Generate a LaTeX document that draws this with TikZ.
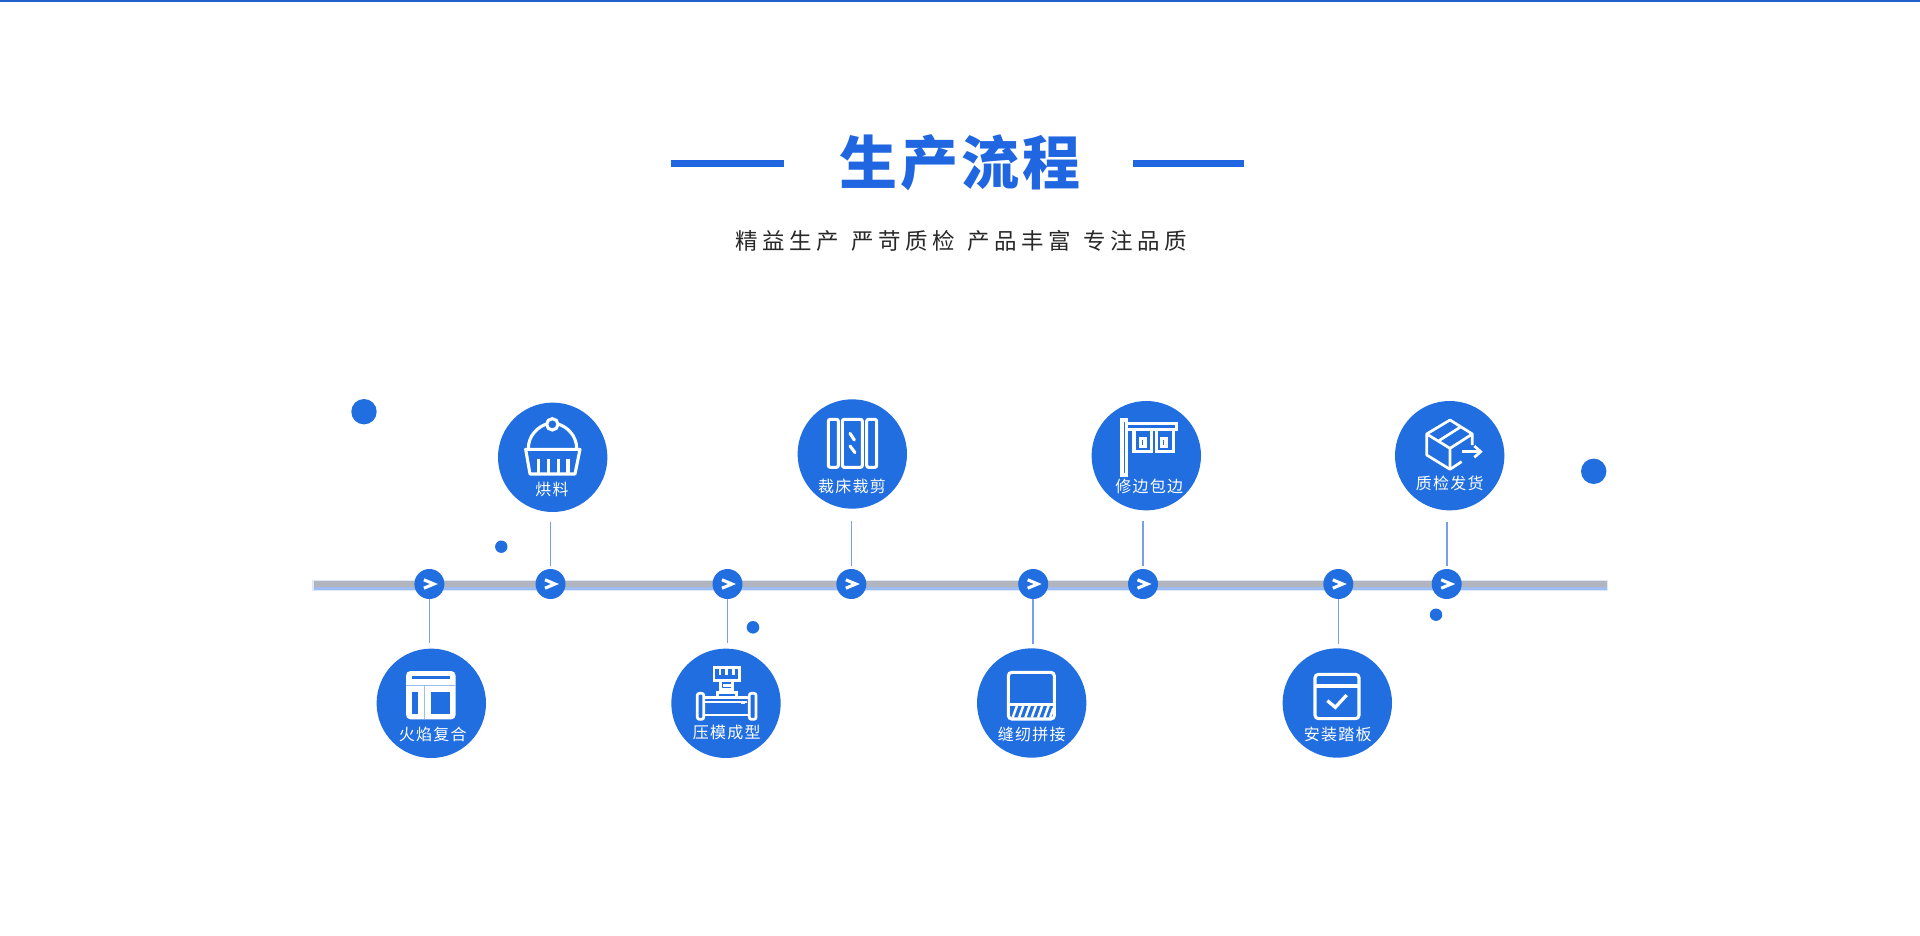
\documentclass[tikz,border=0pt]{standalone}
\usepackage{fontspec}
\newfontfamily\cjklab[LetterSpace=8]{Noto Sans CJK SC}
\newfontfamily\cjksub[LetterSpace=20]{Noto Sans CJK SC}
\newfontfamily\cjktitle[LetterSpace=5]{Noto Sans CJK SC}
\definecolor{mainblue}{RGB}{33,110,225}
\definecolor{titleblue}{RGB}{31,102,224}
\definecolor{topblue}{RGB}{34,96,208}
\definecolor{barblue}{RGB}{157,189,240}
\definecolor{barglow}{RGB}{222,232,248}
\definecolor{bargray}{RGB}{178,181,189}
\definecolor{connblue}{RGB}{118,160,234}
\definecolor{subgray}{RGB}{40,40,40}
\tikzset{
  bigdisc/.style={circle,fill=mainblue,minimum size=109.4pt,inner sep=0pt},
  tlnode/.style={circle,fill=mainblue,minimum size=30pt,inner sep=0pt},
  deco/.style={circle,fill=mainblue,inner sep=0pt},
  conn/.style={draw=connblue,line width=1.6pt},
  chev/.style={draw=white,line width=3.1pt,miter limit=10},
  lab/.style={text=white,font=\cjklab\fontsize{16}{19}\selectfont,inner sep=0pt},
  ico/.style={draw=white,line width=3.1pt},
  at3/.style 2 args={shift={(#1,#2)},x=0.33333pt,y=-0.33333pt},
  titlerule/.style={fill=titleblue,draw=none}
}
\newcommand\chevat[1]{\draw[chev] ([shift={(-5.5,-4.2)}]#1.center) -- ([shift={(4.5,0)}]#1.center) -- ([shift={(-5.5,4.2)}]#1.center);}
\begin{document}
\begin{tikzpicture}[x=1pt,y=-1pt]
\useasboundingbox[fill=white] (0,0) rectangle (1920,936);
\fill[topblue] (0,0) rectangle (1920,2);
% title
\fill[titlerule] (671,160.5) rectangle (784,167);
\fill[titlerule] (1133,160.5) rectangle (1244,167);
\node[inner sep=0pt,text=titleblue,font=\cjktitle\bfseries\fontsize{58}{66}\selectfont] (title) at (960,163) {生产流程};
\node[inner sep=0pt,text=subgray,font=\cjksub\fontsize{22.5}{26}\selectfont] (sub) at (961,241) {精益生产 \hspace{3pt}严苛质检 \hspace{3pt}产品丰富 \hspace{3pt}专注品质};
% timeline
\fill[barglow] (312,580) rectangle (1608,591);
\fill[barblue] (313.5,582) rectangle (1607,589.5);
\fill[bargray] (313.5,581.3) rectangle (1607,587.3);
% deco
\node[deco,minimum size=25.4pt] (d1) at (364,411.7) {};
\node[deco,minimum size=25.4pt] (d2) at (1593.7,471.3) {};
\node[deco,minimum size=12.4pt] (d3) at (501.3,546.7) {};
\node[deco,minimum size=12.6pt] (d4) at (753,627.3) {};
\node[deco,minimum size=12.4pt] (d5) at (1436,614.7) {};
% timeline nodes
\node[tlnode] (t1) at (429.4,584) {};
\node[tlnode] (t2) at (550.5,584) {};
\node[tlnode] (t3) at (727.5,584) {};
\node[tlnode] (t4) at (851.3,584) {};
\node[tlnode] (t5) at (1033.2,584) {};
\node[tlnode] (t6) at (1143,584) {};
\node[tlnode] (t7) at (1338.3,584) {};
\node[tlnode] (t8) at (1446.7,584) {};
\chevat{t1}\chevat{t2}\chevat{t3}\chevat{t4}\chevat{t5}\chevat{t6}\chevat{t7}\chevat{t8}
% discs
\node[bigdisc] (c1) at (431.3,703.3) {};
\node[bigdisc] (c2) at (552.7,457.3) {};
\node[bigdisc] (c3) at (726,703.3) {};
\node[bigdisc] (c4) at (852.3,454) {};
\node[bigdisc] (c5) at (1031.7,703) {};
\node[bigdisc] (c6) at (1146.3,455.7) {};
\node[bigdisc] (c7) at (1337.3,703) {};
\node[bigdisc] (c8) at (1449.7,455.7) {};
% connector free ends
\coordinate (e1) at (429.7,643);
\coordinate (e2) at (550.7,521.7);
\coordinate (e3) at (728,643);
\coordinate (e4) at (851.3,521);
\coordinate (e5) at (1033.3,644);
\coordinate (e6) at (1143,521);
\coordinate (e7) at (1338.7,644);
\coordinate (e8) at (1446.7,521.7);
\draw[conn] (t1.south) -- (t1.south |- e1);
\draw[conn,shorten >=2.5pt] (t2.north |- e2) -- (t2.north);
\draw[conn] (t3.south) -- (t3.south |- e3);
\draw[conn,shorten >=2.5pt] (t4.north |- e4) -- (t4.north);
\draw[conn] (t5.south) -- (t5.south |- e5);
\draw[conn,shorten >=2.5pt] (t6.north |- e6) -- (t6.north);
\draw[conn] (t7.south) -- (t7.south |- e7);
\draw[conn,shorten >=2.5pt] (t8.north |- e8) -- (t8.north);
% labels
\node[lab] (l1) at (432.7,734.7) {火焰复合};
\node[lab] (l2) at (552,489.3) {烘料};
\node[lab] (l3) at (726.7,732.7) {压模成型};
\node[lab] (l4) at (852,486.7) {裁床裁剪};
\node[lab] (l5) at (1031.7,734.7) {缝纫拼接};
\node[lab] (l6) at (1149.3,486.7) {修边包边};
\node[lab] (l7) at (1337.7,734.7) {安装踏板};
\node[lab] (l8) at (1449.7,483) {质检发货};
% icon: panels (c1)
\begin{scope}[at3={395}{660}]
\fill[white,rounded corners=4.5pt] (33,33) rectangle (182,178);
\fill[mainblue] (50,47) rectangle (165,58);
\fill[mainblue] (50,97) rectangle (70,162);
\fill[mainblue] (108,97) rectangle (166,162);
\draw[mainblue!45!white,line width=0.6pt] (33,77) -- (182,77) (89,77) -- (89,178);
\end{scope}
% icon: cupcake (c2)
\begin{scope}[at3={360}{380}]
\draw[ico] (505,206) .. controls (505,165) and (535,140) .. (560,132);
\draw[ico] (650,206) .. controls (650,165) and (620,140) .. (594,132);
\draw[ico,fill=mainblue] (577,133) circle[radius=17];
\draw[ico,line join=round] (497,208) -- (660,208) -- (645,282) -- (510,282) -- cycle;
\draw[ico] (536,236) -- (536,280) (566,236) -- (566,280) (595,236) -- (595,280) (624,236) -- (624,280);
\end{scope}
% icon: valve (c3)
\begin{scope}[at3={690}{660}]
\draw[ico,line width=2.7pt,line join=miter] (72,22) -- (148,22) -- (148,62) -- (72,62) -- cycle;
\draw[ico,line width=2.7pt] (90,22) -- (90,45) (110,22) -- (110,45) (130,22) -- (130,45);
\draw[ico,line width=2.7pt] (92,62) -- (92,98) (128,62) -- (128,98) (100,76) -- (128,76) (92,88) -- (122,88);
\draw[ico,line width=2.7pt] (82,112) -- (82,98) -- (140,98) -- (140,112);
\draw[ico,line width=2.7pt] (42,112) -- (178,112) (42,165) -- (178,165) (42,126) -- (170,126);
\fill[white] (153,124) rectangle (165,132);
\draw[ico,line width=2.7pt,rounded corners=2pt,fill=mainblue] (22,100) rectangle (41,178);
\draw[ico,line width=2.7pt,rounded corners=2pt,fill=mainblue] (178,100) rectangle (198,178);
\end{scope}
% icon: cutting (c4)
\begin{scope}[at3={815}{410}]
\draw[ico,rounded corners=2pt] (40,28) rectangle (70,172);
\draw[ico,rounded corners=2pt] (82,28) rectangle (142,172);
\draw[ico,rounded corners=2pt] (155,28) rectangle (185,172);
\draw[ico,line cap=round] (105,70) -- (118,90) (105,108) -- (120,128);
\end{scope}
% icon: hatch (c5)
\begin{scope}[at3={995}{665}]
\draw[ico,rounded corners=3.5pt] (40,22) rectangle (178,162);
\draw[ico] (40,118) -- (178,118);
\draw[draw=white,line width=2.4pt] (53,158) -- (66,122) (72,158) -- (85,122) (91,158) -- (104,122) (110,158) -- (123,122) (129,158) -- (142,122) (148,158) -- (161,122) (165,158) -- (175,130);
\end{scope}
% icon: signboard (c6)
\begin{scope}[at3={1110}{410}]
\draw[ico] (36,30) rectangle (50,195);
\draw[ico] (50,40) -- (200,40) -- (200,58) -- (50,58);
\draw[ico] (72,58) rectangle (125,125);
\draw[ico] (140,58) rectangle (190,125);
\draw[ico] (92,85) rectangle (105,110);
\draw[ico] (155,85) rectangle (168,110);
\end{scope}
% icon: check (c7)
\begin{scope}[at3={960}{630}]
\draw[ico,rounded corners=3.5pt] (1065,133) rectangle (1197,266);
\draw[ico] (1065,168) -- (1197,168);
\draw[ico,line width=3.3pt] (1102,212) -- (1126,232) -- (1160,195);
\end{scope}
% icon: box (c8)
\begin{scope}[at3={1415}{410}]
\draw[ico,line width=2.7pt,line join=round] (172,105) -- (172,72) -- (105,30) -- (35,72) -- (35,135) -- (105,178) -- (140,155);
\draw[ico,line width=2.7pt,line join=round] (35,72) -- (105,115) -- (172,72) (105,115) -- (105,178);
\draw[ico,line width=2.7pt] (72,92) -- (138,50);
\draw[ico,line width=2.7pt] (142,125) -- (195,125);
\draw[ico,line width=2.7pt] (178,108) -- (197,125) -- (178,142);
\end{scope}
\end{tikzpicture}
\end{document}
